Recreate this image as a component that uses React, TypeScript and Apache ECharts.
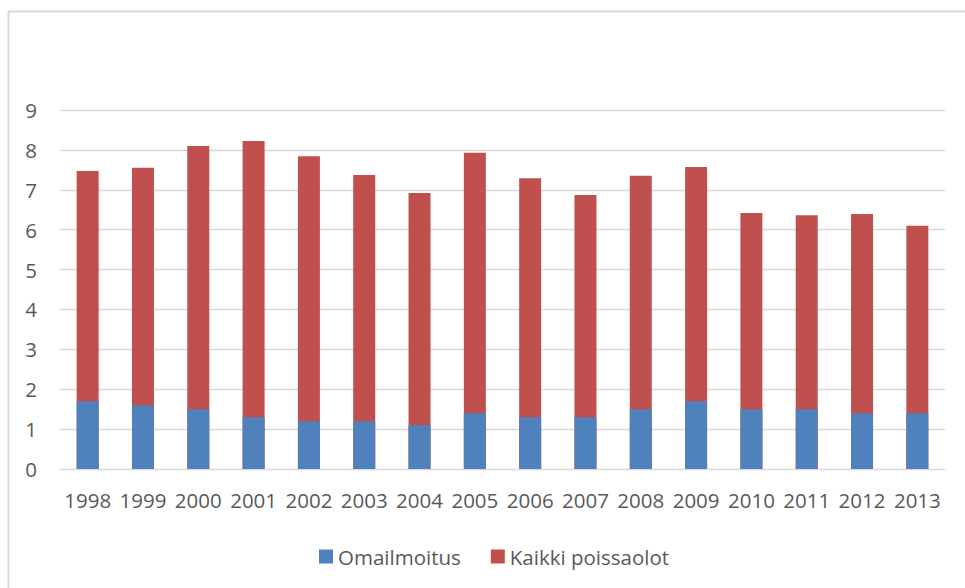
import React, { useEffect, useRef } from "react";
import * as echarts from "echarts";

const years = ["1998","1999","2000","2001","2002","2003","2004","2005","2006","2007","2008","2009","2010","2011","2012","2013"];
const omailmoitus = [1.7, 1.6, 1.5, 1.3, 1.2, 1.2, 1.1, 1.4, 1.3, 1.3, 1.5, 1.7, 1.5, 1.5, 1.4, 1.4];
const kaikkiPoissaolot = [7.47, 7.55, 8.1, 8.22, 7.84, 7.37, 6.92, 7.93, 7.29, 6.87, 7.35, 7.57, 6.42, 6.36, 6.39, 6.1];
const yTicks = [0, 1, 2, 3, 4, 5, 6, 7, 8, 9];

const FONT = "'Open Sans', sans-serif";
const TEXT = "#595959";

export default function App() {
  const ref = useRef<HTMLDivElement>(null);
  useEffect(() => {
    if (!ref.current) return;
    const chart = echarts.init(ref.current, undefined, { renderer: "svg" });
    chart.setOption({
      animation: false,
      backgroundColor: "#ffffff",
      textStyle: { fontFamily: FONT },
      graphic: [
        {
          type: "rect",
          shape: { x: 8.5, y: 11.5, width: 1200, height: 1200 },
          style: { fill: "none", stroke: "#d9d9d9", lineWidth: 2 },
          silent: true,
        },
      ],
      grid: { left: 60, right: 20, top: 110, bottom: 119, containLabel: false },
      legend: {
        data: ["Omailmoitus", "Kaikki poissaolot"],
        left: 314,
        top: 541,
        icon: "rect",
        itemWidth: 14,
        itemHeight: 14,
        itemGap: 30,
        textStyle: { fontFamily: FONT, fontSize: 20.5, color: TEXT },
      },
      xAxis: {
        type: "category",
        data: years,
        axisLine: { show: true, lineStyle: { color: "#d9d9d9", width: 1 } },
        axisTick: { show: false },
        axisLabel: { fontFamily: FONT, fontSize: 20.5, color: TEXT, margin: 20, interval: 0 },
      },
      yAxis: {
        type: "value",
        min: yTicks[0],
        max: yTicks[yTicks.length - 1],
        interval: 1,
        axisLine: { show: false },
        axisTick: { show: false },
        axisLabel: { fontFamily: FONT, fontSize: 20.5, color: TEXT, margin: 23 },
        splitLine: { lineStyle: { color: "#d9d9d9", width: 1.3 } },
      },
      series: [
        {
          name: "Kaikki poissaolot",
          type: "bar",
          data: kaikkiPoissaolot,
          barWidth: 22,
          barGap: "-100%",
          itemStyle: { color: "#c0504d" },
        },
        {
          name: "Omailmoitus",
          type: "bar",
          data: omailmoitus,
          barWidth: 22,
          barGap: "-100%",
          itemStyle: { color: "#4f81bd" },
        },
      ],
    });
    return () => chart.dispose();
  }, []);
  return (
    <div
      ref={ref}
      style={{ position: "fixed", left: 0, top: 0, width: 965, height: 588 }}
    />
  );
}
